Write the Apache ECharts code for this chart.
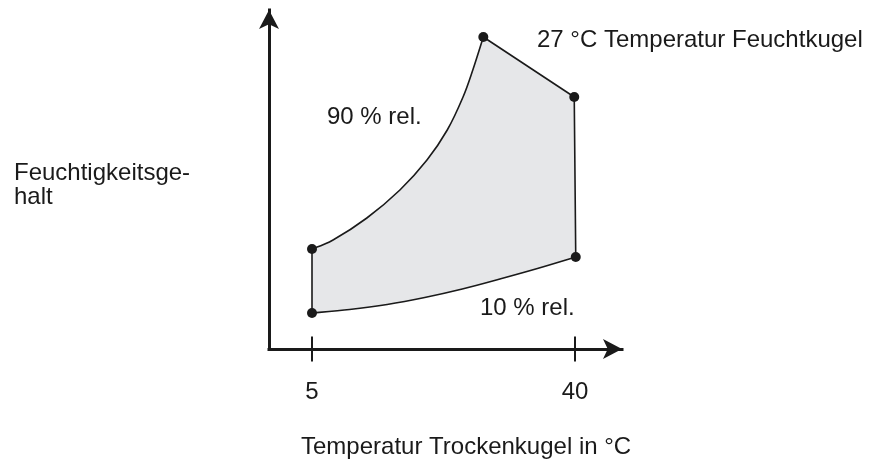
<!DOCTYPE html>
<html>
<head>
<meta charset="utf-8">
<script src="https://cdn.jsdelivr.net/npm/echarts@6/dist/echarts.min.js"></script>
<style>
  html, body { margin: 0; padding: 0; background: #fff; }
  #box { width: 871px; height: 463px; }
</style>
</head>
<body>
<div id="box"></div>
<script>
  // Trockenkugel-Temperatur (°C) / Feuchtigkeitsgehalt (schematisch)
  const tickValues = [5, 40]
  const lower10 = [[5, 3.6], [10, 3.95], [15, 4.45], [20, 5.15], [25, 6.0], [30, 7.0], [35, 8.05], [40.1, 9.2]]
  const wetBulb27 = [[40.1, 9.2], [39.9, 25.2], [27.8, 31.2]]
  const upper90 = [[27.8, 31.2], [26.4, 27.9], [25.1, 25.2], [23.0, 21.9], [20.3, 18.9], [16.7, 15.9], [12.3, 13.1], [7.8, 10.9], [5, 10.0]]
  const corners = [[5, 3.6], [5, 10.0], [27.8, 31.2], [39.9, 25.2], [40.1, 9.2]]

  const font = '"Liberation Sans", Arial, sans-serif'
  const ink = '#1a1a1a'

  function label(text, x, y) {
    return {
      type: 'text', x: x, y: y,
      style: { text: text, fontSize: 24, fontFamily: font, fill: ink, verticalAlign: 'middle' }
    }
  }

  // catmull-rom -> bezier, pixel points in, path commands out (no leading M)
  function smoothPath(pts) {
    let d = ''
    for (let i = 0; i < pts.length - 1; i++) {
      const p0 = pts[i - 1] || pts[i]
      const p1 = pts[i]
      const p2 = pts[i + 1]
      const p3 = pts[i + 2] || p2
      const c1 = [p1[0] + (p2[0] - p0[0]) / 6, p1[1] + (p2[1] - p0[1]) / 6]
      const c2 = [p2[0] - (p3[0] - p1[0]) / 6, p2[1] - (p3[1] - p1[1]) / 6]
      d += ' C' + c1[0] + ',' + c1[1] + ' ' + c2[0] + ',' + c2[1] + ' ' + p2[0] + ',' + p2[1]
    }
    return d
  }

  let myChart = echarts.init(document.getElementById('box'))
  let option = {
    animation: false,
    grid: { left: 269, right: 249, top: 10, bottom: 114 },
    xAxis: {
      type: 'value',
      min: -0.722,
      max: 46.255,
      splitLine: { show: false },
      axisTick: { show: false },
      axisLine: {
        show: true,
        onZero: false,
        symbol: ['none', 'arrow'],
        symbolSize: [15, 19],
        lineStyle: { color: ink, width: 3, cap: 'square' }
      },
      axisLabel: {
        customValues: tickValues,
        margin: 43,
        verticalAlign: 'middle',
        fontSize: 24,
        fontFamily: font,
        color: ink
      }
    },
    yAxis: {
      type: 'value',
      min: 0,
      max: 33.9,
      splitLine: { show: false },
      axisTick: { show: false },
      axisLabel: { show: false },
      axisLine: {
        show: true,
        onZero: false,
        symbol: ['none', 'arrow'],
        symbolSize: [15, 19],
        lineStyle: { color: ink, width: 3, cap: 'square' }
      }
    },
    graphic: [
      label('27 °C Temperatur Feuchtkugel', 537, 40),
      label('90 % rel.', 327, 117),
      label('10 % rel.', 480, 308),
      label('Feuchtigkeitsge-', 14, 173),
      label('halt', 14, 197),
      label('Temperatur Trockenkugel in °C', 301, 447)
    ],
    series: [
      {
        type: 'custom',
        data: [corners[0]],
        clip: false,
        z: 1,
        renderItem: (params, api) => {
          const lo = lower10.map(p => api.coord(p))
          const wb = wetBulb27.map(p => api.coord(p))
          const up = upper90.map(p => api.coord(p))
          let d = 'M' + lo[0][0] + ',' + lo[0][1] + smoothPath(lo)
          wb.slice(1).forEach(p => { d += ' L' + p[0] + ',' + p[1] })
          d += smoothPath(up) + ' Z'
          return {
            type: 'path',
            shape: { pathData: d },
            style: { fill: '#e6e7e9', stroke: ink, lineWidth: 1.6, lineJoin: 'round' }
          }
        }
      },
      {
        type: 'scatter',
        data: corners,
        symbolSize: 10,
        itemStyle: { color: ink, opacity: 1 },
        clip: false,
        z: 3
      },
      {
        type: 'scatter',
        data: tickValues.map(v => [v, 0]),
        symbol: 'rect',
        symbolSize: [2, 25],
        itemStyle: { color: ink, opacity: 1 },
        clip: false,
        z: 3
      }
    ]
  }
  myChart.setOption(option)
</script>
</body>
</html>
